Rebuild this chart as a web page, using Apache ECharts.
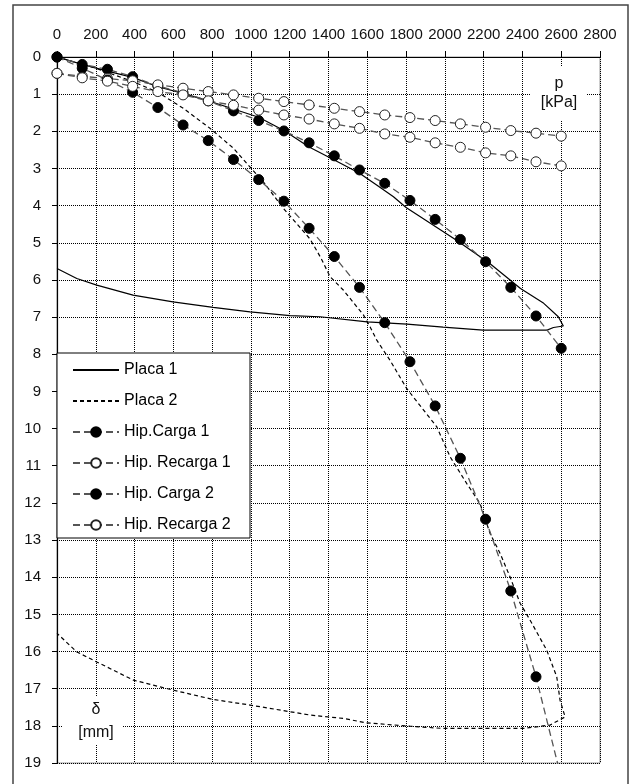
<!DOCTYPE html>
<html>
<head>
<meta charset="utf-8">
<script src="https://cdn.jsdelivr.net/npm/echarts@6/dist/echarts.min.js"></script>
<style>
  html, body { margin: 0; padding: 0; background: #fff; }
  #chart { width: 630px; height: 784px; }
</style>
</head>
<body>
<div id="chart"></div>
<script>
// Curvas carga-asentamiento (placa) + hipérbolas ajustadas

// placa 1: carga y descarga, p [kPa] / δ [mm]
const placa1P = [0, 130, 260, 390, 520, 650, 780, 910, 1040, 1170, 1300, 1430, 1560, 1650, 1735, 1800, 2060, 2230, 2390, 2510, 2585, 2611, 2560, 2527, 2197, 1991, 1805, 1599, 1356, 1202, 995, 805, 598, 392, 205, 102, 0]
const placa1D = [0, 0.2, 0.38, 0.55, 0.8, 0.98, 1.18, 1.4, 1.62, 1.98, 2.42, 2.77, 3.13, 3.45, 3.76, 4.05, 4.93, 5.55, 6.23, 6.63, 6.99, 7.24, 7.28, 7.35, 7.35, 7.27, 7.19, 7.13, 6.99, 6.96, 6.86, 6.74, 6.59, 6.41, 6.14, 5.96, 5.69]

// placa 2
const placa2P = [0, 200, 400, 520, 651, 789, 909, 978, 1064, 1167, 1305, 1360, 1408, 1476, 1580, 1614, 1649, 1717, 1803, 1863, 1958, 2027, 2113, 2181, 2233, 2285, 2336, 2388, 2439, 2525, 2577, 2594, 2620, 2542, 2405, 1992, 1820, 1597, 1476, 1305, 1202, 995, 806, 600, 394, 205, 102, 0]
const placa2D = [0, 0.3, 0.68, 0.95, 1.38, 1.92, 2.45, 2.86, 3.36, 4.07, 4.9, 5.4, 5.91, 6.27, 6.94, 7.26, 7.62, 8.16, 8.92, 9.32, 9.95, 10.76, 11.48, 12.01, 12.82, 13.36, 13.99, 14.7, 15.15, 15.96, 16.68, 17.31, 17.76, 17.98, 18.07, 18.07, 18.01, 17.92, 17.8, 17.71, 17.62, 17.44, 17.29, 17.04, 16.77, 16.28, 16.01, 15.51]

// hipérbolas: mismos escalones de carga
const hipP = [0, 130, 260, 390, 520, 650, 780, 910, 1040, 1170, 1300, 1430, 1560, 1690, 1820, 1950, 2080, 2210, 2340, 2470, 2600]
const hipCarga1 = [0, 0.2, 0.33, 0.53, 0.78, 0.96, 1.18, 1.45, 1.71, 1.99, 2.31, 2.66, 3.04, 3.4, 3.86, 4.37, 4.91, 5.51, 6.2, 6.97, 7.84]
const hipRecarga1 = [0.44, 0.52, 0.58, 0.64, 0.75, 0.84, 0.93, 1.02, 1.11, 1.2, 1.29, 1.38, 1.47, 1.56, 1.63, 1.71, 1.8, 1.89, 1.98, 2.05, 2.13]
const hipCarga2 = [0, 0.3, 0.62, 0.95, 1.36, 1.83, 2.25, 2.76, 3.3, 3.88, 4.61, 5.37, 6.2, 7.15, 8.2, 9.39, 10.8, 12.44, 14.37, 16.68, 19.4]
const hipRecarga2 = [0.44, 0.56, 0.65, 0.79, 0.93, 1.02, 1.18, 1.3, 1.43, 1.56, 1.67, 1.8, 1.92, 2.07, 2.16, 2.31, 2.43, 2.58, 2.66, 2.82, 2.93]

const FONT = "'Liberation Sans', Arial, sans-serif"
const zip = (xs, ys) => xs.map((x, i) => [x, ys[i]])

// grid: left 57, top 57, 543 x 706 px
const G = { left: 57, top: 57, width: 543, height: 706 }

const hipLine = { color: '#555', width: 1.3, type: [7, 4] }
const filled = { color: '#000', borderColor: '#000', borderWidth: 1 }
const hollow = { color: '#fff', borderColor: '#222', borderWidth: 1 }
const gridDots = { color: '#000', width: 1, type: [1, 1] }

const chart = echarts.init(document.getElementById('chart'), null, { renderer: 'canvas' })

chart.setOption({
  animation: false,
  backgroundColor: '#fff',
  textStyle: { fontFamily: FONT },
  grid: { ...G, show: true, borderColor: '#9a9a9a', borderWidth: 1, backgroundColor: 'transparent' },
  xAxis: {
    type: 'value', position: 'top', min: 0, max: 2800, interval: 200,
    axisLine: { show: true, lineStyle: { color: '#000', width: 1.2 } },
    axisTick: { show: true, inside: false, length: 6, lineStyle: { color: '#000' } },
    axisLabel: { color: '#111', fontSize: 15, fontFamily: FONT, margin: 15, formatter: v => String(v) },
    splitLine: { show: true, lineStyle: gridDots }
  },
  yAxis: {
    type: 'value', inverse: true, min: 0, max: 19, interval: 1,
    axisLine: { show: true, lineStyle: { color: '#000', width: 1.2 } },
    axisTick: { show: true, inside: false, length: 5, lineStyle: { color: '#000' } },
    axisLabel: { color: '#111', fontSize: 15, fontFamily: FONT, margin: 16 },
    splitLine: { show: true, lineStyle: gridDots }
  },
  legend: {
    orient: 'vertical', left: 57, top: 353, z: 10,
    padding: [9, 0, 0, 15],
    itemWidth: 46, itemHeight: 12, itemGap: 15,
    textStyle: { color: '#000', fontSize: 16, fontFamily: FONT },
    data: [
      { name: 'Placa 1', itemStyle: { opacity: 0 } },
      { name: 'Placa 2', itemStyle: { opacity: 0 } },
      'Hip.Carga 1', 'Hip. Recarga 1', 'Hip. Carga 2', 'Hip. Recarga 2'
    ]
  },
  graphic: [
    { type: 'rect', z: 100, silent: true, shape: { x: 13, y: 5, width: 615, height: 800 },
      style: { fill: 'none', stroke: '#444', lineWidth: 1.5 } },
    { type: 'rect', z: 9, silent: true, shape: { x: 57, y: 353, width: 193, height: 185 },
      style: { fill: '#fff', stroke: '#000', lineWidth: 1 } },
    { type: 'rect', z: 9, silent: true, shape: { x: 531, y: 66, width: 56, height: 55 },
      style: { fill: '#fff' } },
    { type: 'text', z: 10, silent: true, x: 559, y: 84,
      style: { text: 'p', fill: '#111', font: '16px ' + FONT, align: 'center', verticalAlign: 'middle' } },
    { type: 'text', z: 10, silent: true, x: 559, y: 103,
      style: { text: '[kPa]', fill: '#111', font: '16px ' + FONT, align: 'center', verticalAlign: 'middle' } },
    { type: 'rect', z: 9, silent: true, shape: { x: 63, y: 697, width: 60, height: 48 },
      style: { fill: '#fff' } },
    { type: 'text', z: 10, silent: true, x: 96, y: 710,
      style: { text: 'δ', fill: '#111', font: '16px ' + FONT, align: 'center', verticalAlign: 'middle' } },
    { type: 'text', z: 10, silent: true, x: 96, y: 733,
      style: { text: '[mm]', fill: '#111', font: '16px ' + FONT, align: 'center', verticalAlign: 'middle' } }
  ],
  series: [
    { name: 'Placa 1', type: 'line', data: zip(placa1P, placa1D), symbol: 'none',
      lineStyle: { color: '#000', width: 1.2, type: 'solid' }, itemStyle: { color: '#000' }, z: 3 },
    { name: 'Placa 2', type: 'line', data: zip(placa2P, placa2D), symbol: 'none',
      lineStyle: { color: '#000', width: 1.2, type: [4, 3] }, itemStyle: { color: '#000' }, z: 3 },
    { name: 'Hip.Carga 1', type: 'line', data: zip(hipP, hipCarga1), symbol: 'circle', symbolSize: 10,
      lineStyle: hipLine, itemStyle: filled, z: 4 },
    { name: 'Hip. Recarga 1', type: 'line', data: zip(hipP, hipRecarga1), symbol: 'circle', symbolSize: 10,
      lineStyle: hipLine, itemStyle: hollow, z: 4 },
    { name: 'Hip. Carga 2', type: 'line', data: zip(hipP, hipCarga2), symbol: 'circle', symbolSize: 10,
      lineStyle: hipLine, itemStyle: filled, z: 4, clip: true },
    { name: 'Hip. Recarga 2', type: 'line', data: zip(hipP, hipRecarga2), symbol: 'circle', symbolSize: 10,
      lineStyle: hipLine, itemStyle: hollow, z: 4 }
  ]
})

window.addEventListener('resize', () => chart.resize())
</script>
</body>
</html>
